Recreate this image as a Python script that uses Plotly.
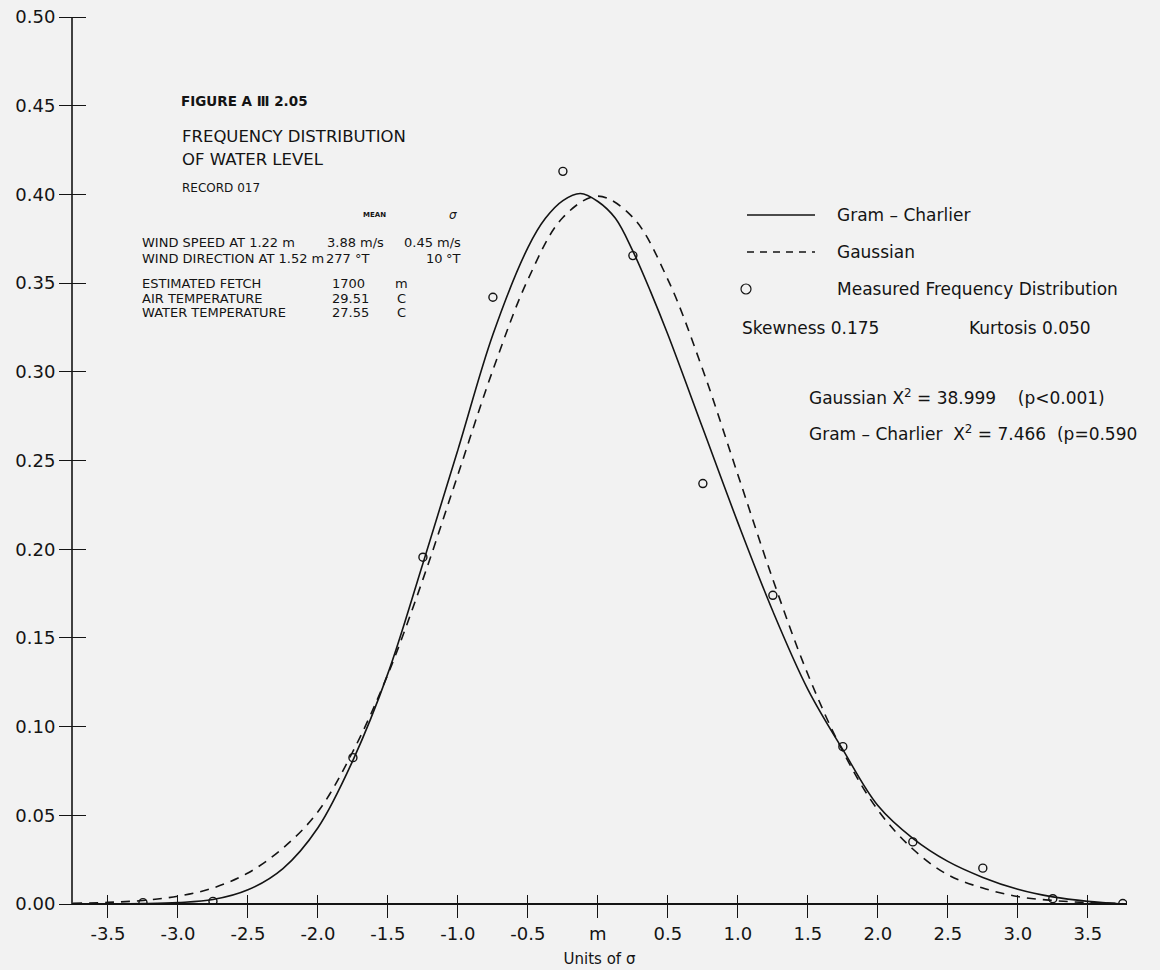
import plotly.graph_objects as go

# ---------------- data ----------------
gc_x = [-3.75, -3.5, -3.25, -3.0, -2.75, -2.5, -2.25, -2.0, -1.75, -1.5, -1.25, -1.0,
        -0.75, -0.5, -0.375, -0.25, -0.125, 0.0, 0.125, 0.25, 0.375, 0.5, 0.75, 1.0,
        1.25, 1.5, 1.75, 2.0, 2.25, 2.5, 2.75, 3.0, 3.25, 3.5, 3.75]
gc_y = [0.0000, 0.0000, 0.0002, 0.0008, 0.0025, 0.0080, 0.0200, 0.0430, 0.0810, 0.1300,
        0.1920, 0.2560, 0.3210, 0.3700, 0.3865, 0.3965, 0.4005, 0.3960, 0.3865, 0.3680,
        0.3455, 0.3210, 0.2680, 0.2150, 0.1650, 0.1210, 0.0870, 0.0555, 0.0370, 0.0240,
        0.0150, 0.0083, 0.0040, 0.0015, 0.0000]

ga_x = [-3.75, -3.5, -3.25, -3.0, -2.75, -2.5, -2.25, -2.0, -1.75, -1.5, -1.25, -1.0,
        -0.75, -0.5, -0.25, 0.0, 0.25, 0.5, 0.75, 1.0, 1.25, 1.5, 1.75, 2.0, 2.25, 2.5,
        2.75, 3.0, 3.25, 3.5, 3.75]
ga_y = [0.0004, 0.0009, 0.0020, 0.0044, 0.0090, 0.0175, 0.0315, 0.0520, 0.0860, 0.1295,
        0.1830, 0.2420, 0.3010, 0.3520, 0.3870, 0.3990, 0.3870, 0.3520, 0.3010, 0.2420,
        0.1830, 0.1295, 0.0860, 0.0530, 0.0310, 0.0165, 0.0090, 0.0042, 0.0020, 0.0008,
        0.0003]

meas_x = [-3.25, -2.75, -1.75, -1.25, -0.75, -0.25, 0.25, 0.75, 1.25, 1.75, 2.25, 2.75, 3.25, 3.75]
meas_y = [0.0008, 0.0015, 0.0825, 0.1955, 0.3420, 0.4130, 0.3655, 0.2370, 0.1740, 0.0887,
          0.0350, 0.0202, 0.0030, 0.0003]

x_tickvals = [-3.5, -3.0, -2.5, -2.0, -1.5, -1.0, -0.5, 0.0, 0.5, 1.0, 1.5, 2.0, 2.5, 3.0, 3.5]
x_ticktext = ["-3.5", "-3.0", "-2.5", "-2.0", "-1.5", "-1.0", "-0.5", "m",
              "0.5", "1.0", "1.5", "2.0", "2.5", "3.0", "3.5"]
y_tickvals = [0.0, 0.05, 0.10, 0.15, 0.20, 0.25, 0.30, 0.35, 0.40, 0.45, 0.50]
y_ticktext = ["0.00", "0.05", "0.10", "0.15", "0.20", "0.25", "0.30", "0.35", "0.40", "0.45", "0.50"]

x_range = [-3.757, 3.78]
y_range = [0.0, 0.5]

# ---------------- style ----------------
INK = "#141414"
BG = "#f2f2f2"
FONT = "DejaVu Sans"

W_PX, H_PX = 1160, 970
L, R, T, B = 72, 1127, 17, 904   # plot area edges in page pixels
X_TICK_UP, X_TICK_DOWN = 10, 13   # x ticks cross the axis line
Y_TICK_IN, Y_TICK_OUT = 14, 13    # y ticks cross the axis line


def fx(p):
    return (p - L) / (R - L)


def fy(p):
    return (B - p) / (B - T)


fig = go.Figure()

fig.add_trace(go.Scatter(
    x=gc_x, y=gc_y, mode="lines", name="Gram–Charlier",
    line=dict(color=INK, width=1.6, shape="spline", smoothing=1.0),
    showlegend=False, hoverinfo="skip"))

fig.add_trace(go.Scatter(
    x=ga_x, y=ga_y, mode="lines", name="Gaussian",
    line=dict(color=INK, width=1.6, dash="9px,7px", shape="spline", smoothing=1.0),
    showlegend=False, hoverinfo="skip"))

fig.add_trace(go.Scatter(
    x=meas_x, y=meas_y, mode="markers", name="Measured Frequency Distribution",
    marker=dict(symbol="circle-open", size=8, color=INK, line=dict(width=1.4, color=INK)),
    showlegend=False, hoverinfo="skip"))

fig.update_layout(
    width=W_PX, height=H_PX,
    margin=dict(l=L, r=W_PX - R, t=T, b=H_PX - B, autoexpand=False),
    paper_bgcolor=BG, plot_bgcolor=BG,
    font=dict(family=FONT, color=INK, size=18),
    # the x tick axis sits a little above y=0 so that its outside ticks cross the x-axis line
    xaxis=dict(range=x_range, tickvals=x_tickvals, ticktext=x_ticktext,
               anchor="free", position=fy(B - X_TICK_UP),
               ticks="outside", ticklen=X_TICK_UP + X_TICK_DOWN, tickwidth=1.3, tickcolor=INK,
               showline=False, showgrid=False, zeroline=False,
               tickfont=dict(size=18, family=FONT, color=INK),
               title=dict(text="Units of σ", font=dict(size=15, family=FONT, color=INK),
                          standoff=10)),
    # the y tick axis sits a little right of the y-axis line so its ticks cross it
    yaxis=dict(range=y_range, tickvals=y_tickvals, ticktext=y_ticktext,
               anchor="free", position=fx(L + Y_TICK_IN),
               ticks="outside", ticklen=Y_TICK_IN + Y_TICK_OUT, tickwidth=1.3, tickcolor=INK,
               showline=False, showgrid=False,
               zeroline=True, zerolinecolor=INK, zerolinewidth=1.6,   # the x-axis line at 0
               tickfont=dict(size=18, family=FONT, color=INK)),
)

# y-axis line along the left edge of the plotting area
fig.add_shape(type="line", xref="paper", yref="paper", x0=0, x1=0, y0=0, y1=1,
              line=dict(color=INK, width=1.6), layer="above")

# ---------------- text blocks ----------------
NB = "&nbsp;"
texts = [
    # (text, left px, centre-y px, size, weight, style)
    ("FIGURE A Ⅲ 2.05", 179, 101, 13.5, 700, "normal"),
    ("FREQUENCY DISTRIBUTION", 180, 136, 16.5, 400, "normal"),
    ("OF WATER LEVEL", 180, 160, 16.5, 400, "normal"),
    ("RECORD 017", 180, 188, 12, 400, "normal"),
    ("MEAN", 361, 215, 7, 700, "normal"),
    ("σ", 447, 215, 12, 400, "italic"),
    ("WIND SPEED AT 1.22 m", 140, 243, 13, 400, "normal"),
    ("3.88 m/s", 325, 243, 13, 400, "normal"),
    ("0.45 m/s", 402, 243, 13, 400, "normal"),
    ("WIND DIRECTION AT 1.52 m", 140, 258, 13, 400, "normal"),
    ("277 °T", 324, 258, 13, 400, "normal"),
    ("10", 424, 258, 13, 400, "normal"),
    ("°T", 444, 258, 13, 400, "normal"),
    ("ESTIMATED FETCH", 140, 283, 13, 400, "normal"),
    ("1700", 330, 283, 13, 400, "normal"),
    ("m", 393, 283, 13, 400, "normal"),
    ("AIR TEMPERATURE", 140, 298, 13, 400, "normal"),
    ("29.51", 330, 298, 13, 400, "normal"),
    ("C", 395, 298, 13, 400, "normal"),
    ("WATER TEMPERATURE", 140, 313, 13, 400, "normal"),
    ("27.55", 330, 313, 13, 400, "normal"),
    ("C", 395, 313, 13, 400, "normal"),
    # legend & statistics
    ("Gram – Charlier", 835, 215, 17, 400, "normal"),
    ("Gaussian", 835, 252, 17, 400, "normal"),
    ("Measured Frequency Distribution", 835, 289, 17, 400, "normal"),
    ("Skewness 0.175", 740, 328, 17, 400, "normal"),
    ("Kurtosis 0.050", 967, 328, 17, 400, "normal"),
    ("Gaussian X<sup>2</sup> = 38.999" + NB * 4 + "(p&lt;0.001)", 807, 397, 17, 400, "normal"),
    ("Gram – Charlier" + NB * 2 + "X<sup>2</sup> = 7.466" + NB * 2 + "(p=0.590",
     807, 433, 17, 400, "normal"),
]

for txt, xp, yp, size, weight, style in texts:
    fig.add_annotation(
        text=txt, xref="paper", yref="paper", x=fx(xp), y=fy(yp),
        xanchor="left", yanchor="middle", showarrow=False,
        font=dict(family=FONT, size=size, color=INK, weight=weight, style=style))

# legend key samples
fig.add_shape(type="line", xref="paper", yref="paper",
              x0=fx(747), x1=fx(815), y0=fy(215), y1=fy(215),
              line=dict(color=INK, width=1.3))
fig.add_shape(type="line", xref="paper", yref="paper",
              x0=fx(747), x1=fx(815), y0=fy(252), y1=fy(252),
              line=dict(color=INK, width=1.3, dash="7px,6px"))
fig.add_shape(type="circle", xref="paper", yref="paper",
              x0=fx(741), x1=fx(751), y0=fy(294), y1=fy(284),
              line=dict(color=INK, width=1.2))

# remove the browser's default 8px page margin so the figure sits at (0, 0)
page_js = "document.body.style.margin='0';document.body.style.background='%s';" % BG

fig.write_html("out.html", post_script=page_js, config={"displayModeBar": False})
